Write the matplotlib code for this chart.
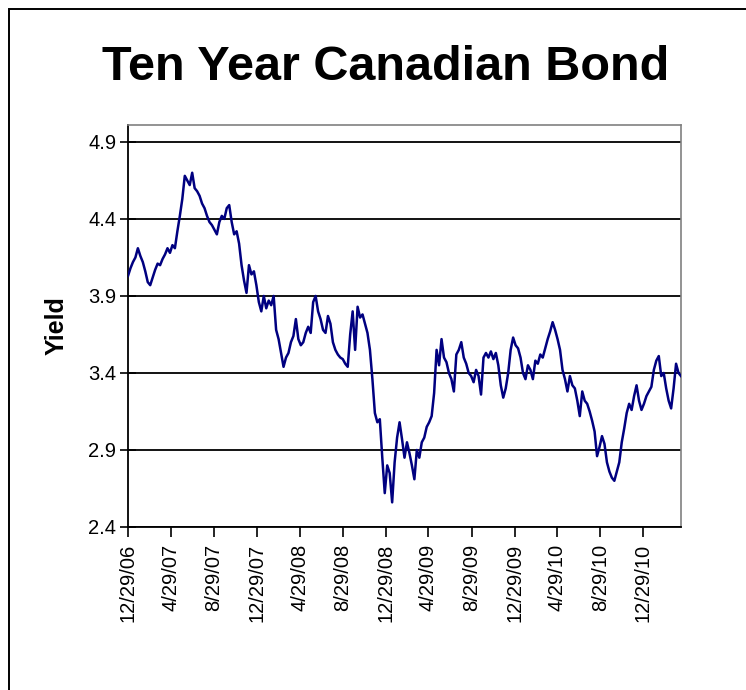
import matplotlib
matplotlib.use("Agg")
import matplotlib.pyplot as plt
from matplotlib.patches import Rectangle
import pandas as pd

title = "Ten Year Canadian Bond"
y_label = "Yield"
start_date = "2006-12-29"
end_date = "2011-04-15"

# weekly readings of the yield
yields = [
    4.03, 4.08, 4.12, 4.15, 4.21, 4.16, 4.12, 4.06, 3.99, 3.97,
    4.02, 4.07, 4.11, 4.10, 4.14, 4.17, 4.21, 4.18, 4.23, 4.21,
    4.32, 4.42, 4.53, 4.68, 4.65, 4.62, 4.70, 4.60, 4.58, 4.55,
    4.50, 4.47, 4.42, 4.38, 4.36, 4.33, 4.30,
    4.38, 4.42, 4.40, 4.47, 4.49, 4.38, 4.30, 4.32, 4.24, 4.10,
    4.00, 3.92, 4.10, 4.04, 4.06, 3.97, 3.86, 3.80, 3.90, 3.82,
    3.87, 3.84, 3.90, 3.68, 3.62, 3.53, 3.44, 3.50, 3.53, 3.60,
    3.64, 3.75, 3.62, 3.58, 3.60, 3.66, 3.70,
    3.66, 3.86, 3.90, 3.80, 3.75, 3.68, 3.66, 3.77, 3.72, 3.60,
    3.55, 3.52, 3.50, 3.49, 3.46, 3.44, 3.65, 3.80, 3.55, 3.83,
    3.76, 3.78, 3.72, 3.66, 3.55, 3.36, 3.14, 3.08, 3.10, 2.85,
    2.62, 2.80, 2.75, 2.56, 2.82, 2.98, 3.08,
    2.97, 2.85, 2.95, 2.88, 2.80, 2.71, 2.90, 2.85, 2.95, 2.98,
    3.05, 3.08, 3.12, 3.27, 3.55, 3.45, 3.62, 3.50, 3.47, 3.40,
    3.36, 3.28, 3.52, 3.55, 3.60, 3.50, 3.46, 3.40, 3.38, 3.34,
    3.42, 3.38, 3.26, 3.50, 3.53,
    3.50, 3.54, 3.49, 3.53, 3.45, 3.32, 3.24, 3.30, 3.40, 3.55,
    3.63, 3.58, 3.56, 3.50, 3.40, 3.36, 3.45, 3.42, 3.36, 3.48,
    3.46, 3.52, 3.50, 3.56, 3.62, 3.67, 3.73, 3.68, 3.62, 3.55,
    3.42, 3.36, 3.28, 3.38, 3.32, 3.30, 3.22, 3.12,
    3.28, 3.22, 3.20, 3.15, 3.09, 3.02, 2.86, 2.92, 2.99, 2.94,
    2.82, 2.76, 2.72, 2.70, 2.76, 2.82, 2.95, 3.04, 3.14, 3.20,
    3.16, 3.25, 3.32, 3.22, 3.16, 3.20, 3.25, 3.28, 3.31, 3.42,
    3.48, 3.51, 3.38, 3.40, 3.30, 3.22, 3.17, 3.30, 3.46, 3.40,
    3.38,
]

tick_dates = ["2006-12-29", "2007-04-29", "2007-08-29", "2007-12-29",
              "2008-04-29", "2008-08-29", "2008-12-29", "2009-04-29",
              "2009-08-29", "2009-12-29", "2010-04-29", "2010-08-29",
              "2010-12-29"]
tick_labels = ["12/29/06", "4/29/07", "8/29/07", "12/29/07", "4/29/08",
               "8/29/08", "12/29/08", "4/29/09", "8/29/09", "12/29/09",
               "4/29/10", "8/29/10", "12/29/10"]
y_ticks = [2.4, 2.9, 3.4, 3.9, 4.4, 4.9]

dates = pd.date_range(start_date, periods=len(yields), freq="7D")

plt.rcParams["font.family"] = ["Liberation Sans", "DejaVu Sans"]

fig = plt.figure(figsize=(7.46, 6.90), dpi=100)
W, H = 746, 690
# chart-area border
fig.patches.append(Rectangle((9 / W, -0.05), 1.2, 1 - 9 / H + 0.05,
                             transform=fig.transFigure, fill=False,
                             edgecolor="black", linewidth=1.4))

ax = fig.add_axes([128 / W, 1 - 527 / H, (681 - 128) / W, (527 - 125) / H])
ax.plot(dates, yields, color="#000080", linewidth=1.8, zorder=3)

ax.set_ylim(2.4, 5.01)
ax.set_yticks(y_ticks)
ax.set_yticklabels([f"{v:.1f}" for v in y_ticks])
ax.set_xlim(pd.Timestamp(start_date), pd.Timestamp(end_date))
ax.set_xticks(pd.to_datetime(tick_dates))
ax.set_xticklabels(tick_labels, rotation=90)

ax.yaxis.grid(True, color="black", linewidth=1.3)
ax.set_axisbelow(True)
for s in ("top", "right"):
    ax.spines[s].set_color("#808080")
    ax.spines[s].set_linewidth(1.2)
for s in ("left", "bottom"):
    ax.spines[s].set_color("black")
    ax.spines[s].set_linewidth(1.3)

ax.tick_params(axis="y", direction="inout", length=11, width=1.2,
               pad=3, labelsize=14.5)
ax.tick_params(axis="x", direction="out", length=7, width=1.2,
               pad=5, labelsize=14.5)

ax.set_ylabel(y_label, fontsize=18, fontweight="bold", labelpad=14)

fig.text(386 / W, 1 - 67 / H, title, ha="center", va="center",
         fontsize=35, fontweight="bold")

fig.savefig("out.png", dpi=100)
